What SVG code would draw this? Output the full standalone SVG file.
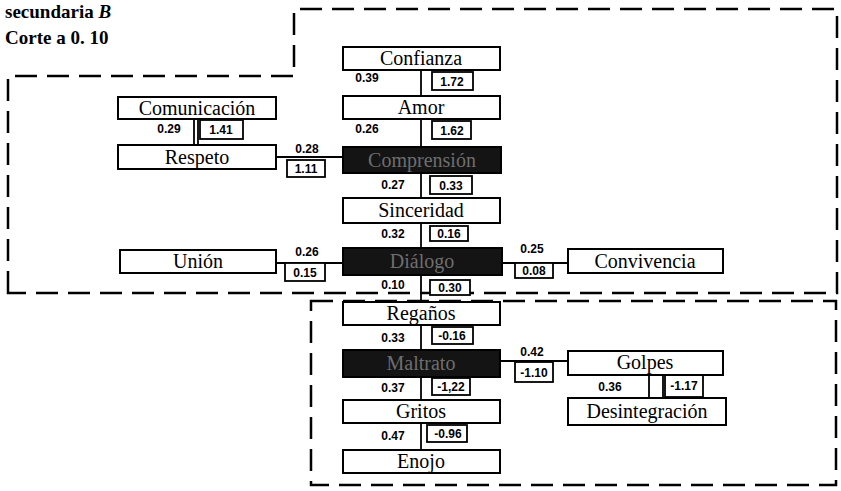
<svg xmlns="http://www.w3.org/2000/svg" width="841" height="491" viewBox="0 0 841 491">
<style>
.region{fill:none;stroke:#000;stroke-width:2.5;stroke-dasharray:22,10}
.box{fill:#fff;stroke:#000;stroke-width:2}
.dark{fill:#141414;stroke:#000;stroke-width:2}
.vbox{fill:#fff;stroke:#000;stroke-width:1.8}
.ln{stroke:#000;stroke-width:1.8;fill:none}
.lbl{font-family:"Liberation Serif",serif;font-size:20px;text-anchor:middle;fill:#000}
.dlbl{font-family:"Liberation Serif",serif;font-size:20px;text-anchor:middle;fill:#6e6e6e}
.num{font-family:"Liberation Sans",sans-serif;font-size:12px;font-weight:bold;text-anchor:middle;fill:#000}
.title{font-family:"Liberation Serif",serif;font-size:19px;font-weight:bold;fill:#000}
</style>
<text class="title" x="5" y="18">secundaria <tspan font-style="italic">B</tspan></text>
<text class="title" x="5" y="44">Corte a 0. 10</text>
<path class="region" d="M8,293 V76 H294 V9 H837 V293 Z"/>
<rect class="region" x="311" y="301" width="525" height="184"/>
<g id="connectors">
<line class="ln" x1="421" y1="69" x2="421" y2="450"/>
<line class="ln" x1="194" y1="119" x2="194" y2="145"/>
<line class="ln" x1="198" y1="119" x2="198" y2="145"/>
<line class="ln" x1="276" y1="157" x2="343" y2="157"/>
<line class="ln" x1="276" y1="263" x2="343" y2="263"/>
<line class="ln" x1="502" y1="263" x2="568" y2="263"/>
<line class="ln" x1="500" y1="361" x2="568" y2="361"/>
<rect class="vbox" x="649" y="375" width="14" height="23"/>
<rect class="vbox" x="432" y="72" width="41" height="18"/><text class="num" x="452" y="86">1.72</text>
<text class="num" x="367" y="82">0.39</text>
<rect class="vbox" x="432" y="121" width="39" height="18"/><text class="num" x="452" y="135">1.62</text>
<text class="num" x="367" y="133">0.26</text>
<rect class="vbox" x="200" y="120" width="43" height="19"/><text class="num" x="221" y="134">1.41</text>
<text class="num" x="169" y="133">0.29</text>
<text class="num" x="307" y="153">0.28</text>
<rect class="vbox" x="287" y="160" width="38" height="17"/><text class="num" x="306" y="173">1.11</text>
<text class="num" x="393" y="189">0.27</text>
<rect class="vbox" x="430" y="176" width="42" height="18"/><text class="num" x="451" y="190">0.33</text>
<text class="num" x="393" y="238">0.32</text>
<rect class="vbox" x="430" y="226" width="38" height="15"/><text class="num" x="449" y="238">0.16</text>
<text class="num" x="307" y="256">0.26</text>
<rect class="vbox" x="285" y="263" width="40" height="18"/><text class="num" x="305" y="277">0.15</text>
<text class="num" x="532" y="253">0.25</text>
<rect class="vbox" x="515" y="263" width="38" height="15"/><text class="num" x="534" y="275">0.08</text>
<text class="num" x="393" y="289">0.10</text>
<rect class="vbox" x="430" y="280" width="40" height="15"/><text class="num" x="450" y="292">0.30</text>
<text class="num" x="393" y="342">0.33</text>
<rect class="vbox" x="432" y="327" width="41" height="17"/><text class="num" x="452" y="340">-0.16</text>
<text class="num" x="532" y="356">0.42</text>
<rect class="vbox" x="515" y="362" width="38" height="20"/><text class="num" x="534" y="377">-1.10</text>
<text class="num" x="393" y="392">0.37</text>
<rect class="vbox" x="432" y="378" width="38" height="17"/><text class="num" x="451" y="391">-1,22</text>
<text class="num" x="610" y="391">0.36</text>
<rect class="vbox" x="665" y="375" width="38" height="22"/><text class="num" x="684" y="390">-1.17</text>
<text class="num" x="393" y="440">0.47</text>
<rect class="vbox" x="427" y="425" width="40" height="17"/><text class="num" x="448" y="438">-0.96</text>
</g>
<g id="confianza"><rect class="box" x="343" y="47" width="157" height="23"/><text class="lbl" x="421" y="65">Confianza</text></g>
<g id="amor"><rect class="box" x="343" y="96" width="157" height="23"/><text class="lbl" x="421" y="114">Amor</text></g>
<g id="comunicacion"><rect class="box" x="118" y="97" width="158" height="22"/><text class="lbl" x="197" y="115">Comunicación</text></g>
<g id="respeto"><rect class="box" x="118" y="145" width="158" height="24"/><text class="lbl" x="197" y="164">Respeto</text></g>
<g id="comprension"><rect class="dark" x="343" y="147" width="158" height="26"/><text class="dlbl" x="422" y="167">Comprensión</text></g>
<g id="sinceridad"><rect class="box" x="343" y="198" width="157" height="25"/><text class="lbl" x="421" y="217">Sinceridad</text></g>
<g id="union"><rect class="box" x="120" y="250" width="156" height="23"/><text class="lbl" x="198" y="268">Unión</text></g>
<g id="dialogo"><rect class="dark" x="343" y="248" width="159" height="27"/><text class="dlbl" x="422" y="268">Diálogo</text></g>
<g id="convivencia"><rect class="box" x="568" y="249" width="155" height="24"/><text class="lbl" x="645" y="268">Convivencia</text></g>
<g id="reganos"><rect class="box" x="343" y="302" width="157" height="23"/><text class="lbl" x="421" y="320">Regaños</text></g>
<g id="maltrato"><rect class="dark" x="343" y="350" width="157" height="27"/><text class="dlbl" x="421" y="370">Maltrato</text></g>
<g id="golpes"><rect class="box" x="568" y="351" width="155" height="24"/><text class="lbl" x="645" y="369">Golpes</text></g>
<g id="desintegracion"><rect class="box" x="568" y="398" width="158" height="27"/><text class="lbl" x="647" y="418">Desintegración</text></g>
<g id="gritos"><rect class="box" x="343" y="400" width="157" height="23"/><text class="lbl" x="421" y="418">Gritos</text></g>
<g id="enojo"><rect class="box" x="343" y="450" width="157" height="23"/><text class="lbl" x="421" y="468">Enojo</text></g>
</svg>
